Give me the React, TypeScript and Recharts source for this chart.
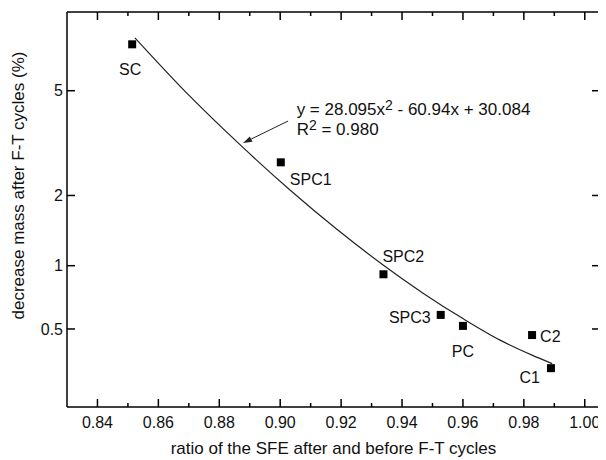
import React from 'react';
import { ComposedChart, Line, Scatter, XAxis, YAxis, ReferenceLine, ReferenceDot } from 'recharts';

// ---- data ----
const sampleNames = ['SC', 'SPC1', 'SPC2', 'SPC3', 'PC', 'C2', 'C1'];
const sfeRatio = [0.8514, 0.9002, 0.9339, 0.9527, 0.96, 0.9827, 0.9889];
const massDecrease = [7.23, 2.71, 0.914, 0.587, 0.518, 0.466, 0.313];

const fitRatio = [0.8523, 0.87, 0.8874, 0.9034, 0.9184, 0.9339, 0.9469, 0.96, 0.9722, 0.9827, 0.9893];
const fitMassDecrease = [7.6, 4.82, 3.12, 2.095, 1.452, 1.005, 0.747, 0.563, 0.439, 0.367, 0.331];

const xMajorTicks = [0.84, 0.86, 0.88, 0.9, 0.92, 0.94, 0.96, 0.98, 1.0];
const xMinorTicks = [0.85, 0.87, 0.89, 0.91, 0.93, 0.95, 0.97, 0.99];
const yTickValues = [0.5, 1, 2, 5];
const xDomain: [number, number] = [0.83, 1.005];
const yDomainRaw = [0.19, 9.24];

const xTitle = 'ratio of the SFE after and before F-T cycles';
const yTitle = 'decrease mass after F-T cycles (%)';

// annotation anchor points (data coordinates)
const eqAnchor = { x: 0.9054, y: 4.09 };
const arrowFrom = { x: 0.9026, y: 3.885 };
const arrowTo = { x: 0.8878, y: 3.214 };

// ---- y axis scale (compressed power scale as in the original) ----
const Y_EXP = 0.15;
const toAxis = (v: number) => Math.pow(v, Y_EXP);
const fromAxis = (t: number) => Math.pow(t, 1 / Y_EXP);

const sampleData = sampleNames.map((name, i) => ({ name, x: sfeRatio[i], y: toAxis(massDecrease[i]) }));
const fitData = fitRatio.map((x, i) => ({ x, y: toAxis(fitMassDecrease[i]) }));
const yDomain: [number, number] = [toAxis(yDomainRaw[0]), toAxis(yDomainRaw[1])];
const yTicks = yTickValues.map(toAxis);

// ---- layout ----
const CHART_W = 596;
const CHART_H = 450;
const MARGIN = { top: 4, right: 4, bottom: 0, left: 0 };
const Y_AXIS_W = 59;
const X_AXIS_H = 51;
const PLOT_TOP = MARGIN.top;
const PLOT_BOTTOM = CHART_H - MARGIN.bottom - X_AXIS_H;
const PLOT_LEFT = MARGIN.left + Y_AXIS_W;
const PLOT_RIGHT = CHART_W - MARGIN.right;
const MAJOR_LEN = 8;
const MINOR_LEN = 4;
const X_PER_PX = (xDomain[1] - xDomain[0]) / (PLOT_RIGHT - PLOT_LEFT);
const Y_PER_PX = (yDomain[1] - yDomain[0]) / (PLOT_BOTTOM - PLOT_TOP);

const FONT = '"Liberation Sans", Arial, sans-serif';
const INK = '#111';

const labelPlacement: Record<string, { dx: number; dy: number; anchor: 'start' | 'middle' | 'end' }> = {
  SC: { dx: -2, dy: 31, anchor: 'middle' },
  SPC1: { dx: 9, dy: 23, anchor: 'start' },
  SPC2: { dx: -1, dy: -12, anchor: 'start' },
  SPC3: { dx: -10, dy: 8, anchor: 'end' },
  PC: { dx: 0, dy: 31, anchor: 'middle' },
  C2: { dx: 8, dy: 7, anchor: 'start' },
  C1: { dx: -11, dy: 15, anchor: 'end' },
};

const renderMarker = (props: any) => {
  const { cx, cy, payload } = props;
  const p = labelPlacement[payload.name];
  return (
    <g>
      <rect x={cx - 4} y={cy - 4} width={8} height={8} fill="#000" />
      <text x={cx + p.dx} y={cy + p.dy} textAnchor={p.anchor} fontSize={16} fill={INK} fontFamily={FONT}>
        {payload.name}
      </text>
    </g>
  );
};

const renderEquation = (props: any) => {
  const { cx, cy } = props;
  return (
    <g fontFamily={FONT} fill={INK}>
      <text x={cx} y={cy} fontSize={17}>
        <tspan>y = 28.095x</tspan>
        <tspan dy={-5} fontSize={14}>2</tspan>
        <tspan dy={5}>{' - 60.94x + 30.084'}</tspan>
      </text>
      <text x={cx} y={cy + 20} fontSize={17}>
        <tspan>R</tspan>
        <tspan dy={-5} fontSize={14}>2</tspan>
        <tspan dy={5}>{' = 0.980'}</tspan>
      </text>
    </g>
  );
};

const renderArrow = (props: any) => {
  const { x1, y1, x2, y2 } = props;
  const ang = Math.atan2(y2 - y1, x2 - x1);
  const L = 9;
  const W = 3;
  const bx = x2 - L * Math.cos(ang);
  const by = y2 - L * Math.sin(ang);
  const px = -Math.sin(ang) * W;
  const py = Math.cos(ang) * W;
  return (
    <g>
      <line x1={x1} y1={y1} x2={bx} y2={by} stroke="#222" strokeWidth={1} />
      <polygon points={`${x2},${y2} ${bx + px},${by + py} ${bx - px},${by - py}`} fill="#222" />
    </g>
  );
};

// inward tick segments on all four frame edges (data coordinates)
type Seg = [{ x: number; y: number }, { x: number; y: number }];
const tickSegments: Seg[] = [];
const addXTick = (v: number, len: number) => {
  tickSegments.push([{ x: v, y: yDomain[0] }, { x: v, y: yDomain[0] + len * Y_PER_PX }]);
  tickSegments.push([{ x: v, y: yDomain[1] }, { x: v, y: yDomain[1] - len * Y_PER_PX }]);
};
xMajorTicks.forEach((v) => addXTick(v, MAJOR_LEN));
xMinorTicks.forEach((v) => addXTick(v, MINOR_LEN));
yTicks.forEach((t) => {
  tickSegments.push([{ x: xDomain[0], y: t }, { x: xDomain[0] + MAJOR_LEN * X_PER_PX, y: t }]);
  tickSegments.push([{ x: xDomain[1], y: t }, { x: xDomain[1] - MAJOR_LEN * X_PER_PX, y: t }]);
});

const renderXTitle = (props: any) => {
  const vb = props.viewBox;
  return (
    <text x={vb.x + vb.width / 2} y={vb.y + 47} textAnchor="middle" fontSize={17} fill={INK} fontFamily={FONT}>
      {xTitle}
    </text>
  );
};

const renderYTitle = (props: any) => {
  const vb = props.viewBox;
  const cx = vb.x + 10;
  const cy = vb.y + vb.height / 2 - 24;
  return (
    <text
      x={cx}
      y={cy}
      textAnchor="middle"
      dominantBaseline="central"
      transform={`rotate(-90, ${cx}, ${cy})`}
      fontSize={17}
      fill={INK}
      fontFamily={FONT}
    >
      {yTitle}
    </text>
  );
};

const formatY = (t: number) => String(Math.round(fromAxis(t) * 10) / 10);

export default function App() {
  const axisStroke = { stroke: '#000', strokeWidth: 1.5 };
  return (
    <div style={{ width: CHART_W, height: CHART_H, fontFamily: FONT }}>
      <ComposedChart width={CHART_W} height={CHART_H} margin={MARGIN}>
        <XAxis
          xAxisId="b"
          dataKey="x"
          type="number"
          domain={xDomain}
          allowDataOverflow
          ticks={xMajorTicks}
          interval={0}
          tickFormatter={(v: number) => v.toFixed(2)}
          tickLine={false}
          tickSize={0}
          tickMargin={10}
          axisLine={axisStroke}
          tick={{ fontSize: 16, fill: INK, fontFamily: FONT }}
          height={X_AXIS_H}
          label={renderXTitle}
        />
        <YAxis
          yAxisId="l"
          dataKey="y"
          type="number"
          domain={yDomain}
          allowDataOverflow
          ticks={yTicks}
          interval={0}
          tickFormatter={formatY}
          tickLine={false}
          tickSize={0}
          tickMargin={4}
          axisLine={axisStroke}
          tick={{ fontSize: 16, fill: INK, fontFamily: FONT }}
          width={Y_AXIS_W}
          label={renderYTitle}
        />

        {/* frame: top and right borders */}
        <ReferenceLine xAxisId="b" yAxisId="l" y={yDomain[1]} stroke="#000" strokeWidth={1.5} ifOverflow="visible" />
        <ReferenceLine xAxisId="b" yAxisId="l" x={xDomain[1]} stroke="#000" strokeWidth={1.5} ifOverflow="visible" />

        {tickSegments.map((seg, i) => (
          <ReferenceLine
            key={`tick-${i}`}
            xAxisId="b"
            yAxisId="l"
            segment={seg}
            stroke="#000"
            strokeWidth={1.5}
            ifOverflow="visible"
          />
        ))}

        <Line
          xAxisId="b"
          yAxisId="l"
          data={fitData}
          dataKey="y"
          type="monotone"
          stroke="#222"
          strokeWidth={1.2}
          dot={false}
          activeDot={false}
          isAnimationActive={false}
        />
        <Scatter
          xAxisId="b"
          yAxisId="l"
          data={sampleData}
          dataKey="y"
          shape={renderMarker}
          isAnimationActive={false}
        />
        <ReferenceLine
          xAxisId="b"
          yAxisId="l"
          segment={[
            { x: arrowFrom.x, y: toAxis(arrowFrom.y) },
            { x: arrowTo.x, y: toAxis(arrowTo.y) },
          ]}
          shape={renderArrow}
        />
        <ReferenceDot
          xAxisId="b"
          yAxisId="l"
          x={eqAnchor.x}
          y={toAxis(eqAnchor.y)}
          r={0}
          shape={renderEquation}
        />
      </ComposedChart>
    </div>
  );
}
